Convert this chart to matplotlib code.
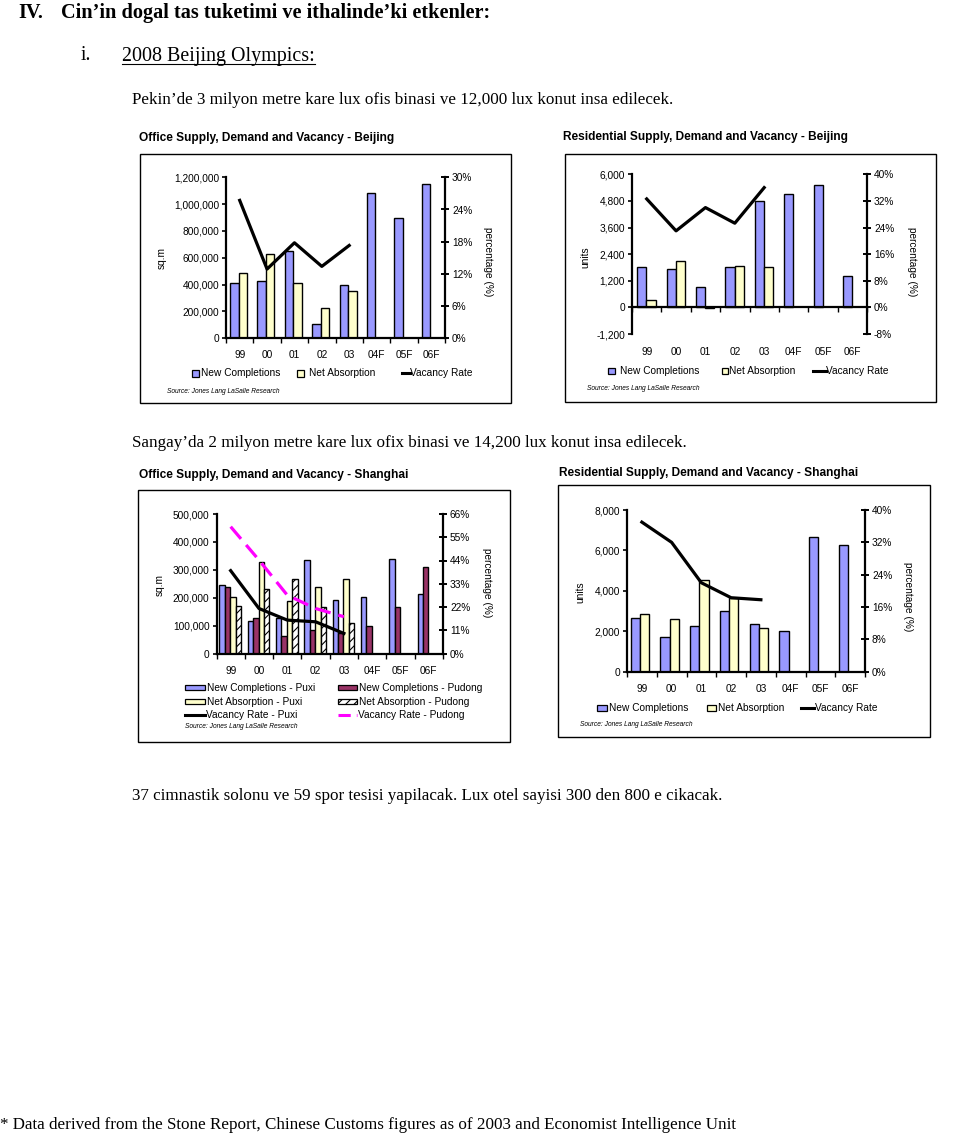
"""Recreation of a scanned report page with four Jones Lang LaSalle supply/demand charts."""

import matplotlib

matplotlib.use("Agg")
import matplotlib.pyplot as plt
import numpy as np
from matplotlib import font_manager
from matplotlib.lines import Line2D
from matplotlib.patches import Rectangle

W, H = 960, 1136

YEARS = ["99", "00", "01", "02", "03", "04F", "05F", "06F"]

# Office supply, Beijing (sq.m / vacancy %)
bj_off_completions = [410000, 430000, 650000, 110000, 400000, 1085000, 895000, 1150000]
bj_off_absorption = [490000, 625000, 415000, 225000, 350000]
bj_off_vacancy = [25.7, 12.9, 17.8, 13.4, 17.3]

# Residential supply, Beijing (units / vacancy %)
bj_res_completions = [1800, 1730, 900, 1800, 4800, 5100, 5500, 1400]
bj_res_absorption = [350, 2100, -50, 1850, 1800]
bj_res_vacancy = [32.6, 23.0, 30.0, 25.3, 36.0]

# Office supply, Shanghai (sq.m / vacancy %)
sh_off_nc_puxi = [244000, 118000, 128000, 336000, 193000, 201000, 340000, 212000]
sh_off_nc_pudong = [240000, 128000, 62000, 83000, 72000, 99000, 165000, 309000]
sh_off_na_puxi = [201000, 327000, 188000, 240000, 267000]
sh_off_na_pudong = [171000, 230000, 268000, 165000, 110000]
sh_off_vac_puxi = [39.2, 21.3, 15.8, 15.0, 9.5]
sh_off_vac_pudong = [60.0, 44.2, 27.6, 21.3, 17.4]

# Residential supply, Shanghai (units / vacancy %)
sh_res_completions = [2650, 1700, 2250, 3000, 2350, 2000, 6650, 6250]
sh_res_absorption = [2850, 2600, 4550, 3650, 2150]
sh_res_vacancy = [37.0, 32.0, 22.0, 18.3, 17.8]

BLUE = "#9999FF"
YELLOW = "#FFFFCC"
MAROON = "#993366"
MAGENTA = "#FF00FF"

SERIF = "Liberation Serif"
SANS = "Liberation Sans"
try:
    font_manager.findfont("Liberation Sans Narrow", fallback_to_default=False)
    NARROW = "Liberation Sans Narrow"
except ValueError:
    NARROW = SANS

plt.rcParams["hatch.linewidth"] = 0.8
TICK_FS = 7.3
BODY_FS = 12.25


def fx(x):
    return x / W


def fy(y):
    return 1 - y / H


def ftext(fig, x, y, s, **kw):
    kw.setdefault("va", "center")
    kw.setdefault("ha", "left")
    return fig.text(fx(x), fy(y), s, **kw)


def frame(fig, l, t, r, b):
    fig.add_artist(Rectangle((fx(l), fy(b)), (r - l) / W, (b - t) / H,
                             transform=fig.transFigure, fill=False, lw=1.0, ec="black"))


def setup_axes(fig, px, ylim, yticks, rlim, rticks, zero_spine=False):
    l, t, r, b = px
    ax = fig.add_axes([fx(l), fy(b), (r - l) / W, (b - t) / H])
    ax.set_xlim(-0.5, len(YEARS) - 0.5)
    ax.set_ylim(*ylim)
    ax.set_yticks(yticks)
    ax.set_yticklabels([f"{v:,}" for v in yticks], fontsize=TICK_FS, family=SANS)
    ax.set_xticks([])
    ax.set_xticks(np.arange(-0.5, len(YEARS) + 0.5, 1.0), minor=True)
    ax.tick_params(axis="x", which="minor", direction="out", length=3.5, width=1.0)
    ax.tick_params(axis="y", direction="out", length=3, width=1.2, pad=2)
    for side in ("top", "right"):
        ax.spines[side].set_visible(False)
    for side in ("left", "bottom"):
        ax.spines[side].set_linewidth(1.6)
    if zero_spine:
        ax.spines["bottom"].set_position(("data", 0))

    ax2 = ax.twinx()
    ax2.set_ylim(*rlim)
    ax2.set_yticks(rticks)
    ax2.set_yticklabels([f"{v}%" for v in rticks], fontsize=TICK_FS, family=SANS)
    ax2.tick_params(axis="y", direction="inout", length=6, width=1.4, pad=2)
    for side in ("top", "left", "bottom"):
        ax2.spines[side].set_visible(False)
    ax2.spines["right"].set_linewidth(1.6)
    return ax, ax2


def category_labels(fig, ax, y):
    for i, lab in enumerate(YEARS):
        xd = ax.transData.transform((i, 0))[0]
        xf = fig.transFigure.inverted().transform((xd, 0))[0]
        fig.text(xf, fy(y), lab, ha="center", va="center", fontsize=TICK_FS, family=SANS)


def legend_patch(fig, x, y, w, h, label, tx, **style):
    fig.add_artist(Rectangle((fx(x), fy(y + h / 2)), w / W, h / H,
                             transform=fig.transFigure, lw=0.9, ec="black", **style))
    ftext(fig, tx, y, label, fontsize=TICK_FS, family=SANS)


def legend_line(fig, x0, x1, y, label, tx, **style):
    fig.add_artist(Line2D([fx(x0), fx(x1)], [fy(y), fy(y)], transform=fig.transFigure, **style))
    ftext(fig, tx, y, label, fontsize=TICK_FS, family=SANS)


def source(fig, x, y):
    ftext(fig, x, y, "Source: Jones Lang LaSalle Research", fontsize=4.8,
          family=SANS, style="italic")


def chart_title(fig, x, y, s):
    ftext(fig, x, y, s, fontsize=8.6, family=NARROW, weight="bold")


def axis_labels(fig, left, right):
    ftext(fig, left[0], left[1], left[2], fontsize=TICK_FS, family=SANS, rotation=90, ha="center")
    ftext(fig, right[0], right[1], "percentage (%)", fontsize=TICK_FS, family=SANS,
          rotation=270, ha="center")


fig = plt.figure(figsize=(W / 100, H / 100), dpi=100)
x = np.arange(len(YEARS))
x5 = x[:5]

# ---- page text ----
ftext(fig, 18, 13, "IV.", fontsize=14.6, family=SERIF, weight="bold")
ftext(fig, 61, 13, "Cin\u2019in dogal tas tuketimi ve ithalinde\u2019ki etkenler:",
      fontsize=14.6, family=SERIF, weight="bold")
ftext(fig, 81, 56, "i.", fontsize=14.2, family=SERIF)
olymp = ftext(fig, 122, 56, "2008 Beijing Olympics:", fontsize=14.4, family=SERIF)
ftext(fig, 132, 100, "Pekin\u2019de 3 milyon metre kare lux ofis binasi ve 12,000 lux konut insa edilecek.",
      fontsize=BODY_FS, family=SERIF)
ftext(fig, 132, 443, "Sangay\u2019da 2 milyon metre kare lux ofix binasi ve 14,200 lux konut insa edilecek.",
      fontsize=BODY_FS, family=SERIF)
ftext(fig, 132, 796, "37 cimnastik solonu ve 59 spor tesisi yapilacak. Lux otel sayisi 300 den 800 e cikacak.",
      fontsize=BODY_FS, family=SERIF)
ftext(fig, 0, 1125, "* Data derived from the Stone Report, Chinese Customs figures as of 2003 and Economist Intelligence Unit",
      fontsize=BODY_FS, family=SERIF)

# ---- chart 1: Office Beijing ----
frame(fig, 140, 154, 511, 403)
chart_title(fig, 139, 138, "Office Supply, Demand and Vacancy - Beijing")
ax, ax2 = setup_axes(fig, (226, 177.3, 445, 338.3), (0, 1200000), range(0, 1200001, 200000),
                     (0, 30), range(0, 31, 6))
ax.bar(x - 0.195, bj_off_completions, 0.31, color=BLUE, ec="black", lw=1.0)
ax.bar(x5 + 0.115, bj_off_absorption, 0.31, color=YELLOW, ec="black", lw=1.0)
ax2.plot(x5, bj_off_vacancy, color="black", lw=2.3)
category_labels(fig, ax, 355)
axis_labels(fig, (162, 258, "sq.m"), (488, 262))
legend_patch(fig, 192, 373.3, 6.5, 6.5, "New Completions", 201, fc=BLUE)
legend_patch(fig, 297, 373.3, 6.5, 6.5, "Net Absorption", 309, fc=YELLOW)
legend_line(fig, 402, 410, 373.3, "Vacancy Rate", 410, color="black", lw=2.2)
source(fig, 167, 391.7)

# ---- chart 2: Residential Beijing ----
frame(fig, 565, 154, 936, 402)
chart_title(fig, 563, 137, "Residential Supply, Demand and Vacancy - Beijing")
ax, ax2 = setup_axes(fig, (632, 174.3, 867, 334), (-1200, 6000), range(-1200, 6001, 1200),
                     (-8, 40), range(-8, 41, 8), zero_spine=True)
ax.bar(x - 0.165, bj_res_completions, 0.31, color=BLUE, ec="black", lw=1.0)
ax.bar(x5 + 0.145, bj_res_absorption, 0.31, color=YELLOW, ec="black", lw=1.0)
ax2.plot(x5, bj_res_vacancy, color="black", lw=2.3)
category_labels(fig, ax, 352)
axis_labels(fig, (585, 257, "units"), (912, 262))
legend_patch(fig, 608, 371, 7, 6.5, "New Completions", 620, fc=BLUE)
legend_patch(fig, 721.5, 371, 6, 6.5, "Net Absorption", 729, fc=YELLOW)
legend_line(fig, 813, 826, 371, "Vacancy Rate", 826, color="black", lw=2.2)
source(fig, 587, 388.3)

# ---- chart 3: Office Shanghai ----
frame(fig, 138, 490, 510, 742)
chart_title(fig, 139, 475, "Office Supply, Demand and Vacancy - Shanghai")
ax, ax2 = setup_axes(fig, (216.5, 514, 443, 653.5), (0, 500000), range(0, 500001, 100000),
                     (0, 66), range(0, 67, 11))
bw = 0.19
ax.bar(x - 0.3, sh_off_nc_puxi, bw, color=BLUE, ec="black", lw=1.0)
ax.bar(x - 0.11, sh_off_nc_pudong, bw, color=MAROON, ec="black", lw=1.0)
ax.bar(x5 + 0.08, sh_off_na_puxi, bw, color=YELLOW, ec="black", lw=1.0)
ax.bar(x5 + 0.27, sh_off_na_pudong, bw, color="white", ec="black", lw=1.0, hatch="////")
ax2.plot(x5, sh_off_vac_puxi, color="black", lw=2.3)
ax2.plot(x5, sh_off_vac_pudong, color=MAGENTA, lw=2.3, dashes=(5, 2.5))
category_labels(fig, ax, 670.7)
axis_labels(fig, (160, 585, "sq.m"), (487, 583))
legend_patch(fig, 185, 687.7, 20, 5.5, "New Completions - Puxi", 207, fc=BLUE)
legend_patch(fig, 338, 687.7, 19, 5.5, "New Completions - Pudong", 359, fc=MAROON)
legend_patch(fig, 185, 701.7, 20, 5.5, "Net Absorption - Puxi", 207, fc=YELLOW)
legend_patch(fig, 338, 701.7, 19, 5.5, "Net Absorption - Pudong", 359, fc="white", hatch="////")
legend_line(fig, 185, 205, 715, "Vacancy Rate - Puxi", 206, color="black", lw=2.2)
legend_line(fig, 338, 357, 715, "Vacancy Rate - Pudong", 358, color=MAGENTA, lw=2.2,
            dashes=(4, 2))
source(fig, 185, 726.7)

# ---- chart 4: Residential Shanghai ----
frame(fig, 558, 485, 930, 737)
chart_title(fig, 559, 473, "Residential Supply, Demand and Vacancy - Shanghai")
ax, ax2 = setup_axes(fig, (627, 510, 865, 671.7), (0, 8000), range(0, 8001, 2000),
                     (0, 40), range(0, 41, 8))
ax.bar(x - 0.22, sh_res_completions, 0.31, color=BLUE, ec="black", lw=1.0)
ax.bar(x5 + 0.09, sh_res_absorption, 0.31, color=YELLOW, ec="black", lw=1.0)
ax2.plot(x5, sh_res_vacancy, color="black", lw=2.3)
category_labels(fig, ax, 689)
axis_labels(fig, (580, 592, "units"), (908, 597))
legend_patch(fig, 597, 708, 10, 6.5, "New Completions", 609, fc=BLUE)
legend_patch(fig, 707, 708, 9, 6.5, "Net Absorption", 718, fc=YELLOW)
legend_line(fig, 801, 814, 708, "Vacancy Rate", 815, color="black", lw=2.2)
source(fig, 580, 725)

# underline for the section heading
fig.canvas.draw()
bb = olymp.get_window_extent(fig.canvas.get_renderer())
inv = fig.transFigure.inverted()
(x0, y0), (x1, _) = inv.transform([(bb.x0, bb.y0), (bb.x1, bb.y1)])
fig.add_artist(Line2D([x0, x1], [y0 + 1.5 / H, y0 + 1.5 / H], transform=fig.transFigure,
                      color="black", lw=0.8))

fig.savefig("out.png", dpi=100)
